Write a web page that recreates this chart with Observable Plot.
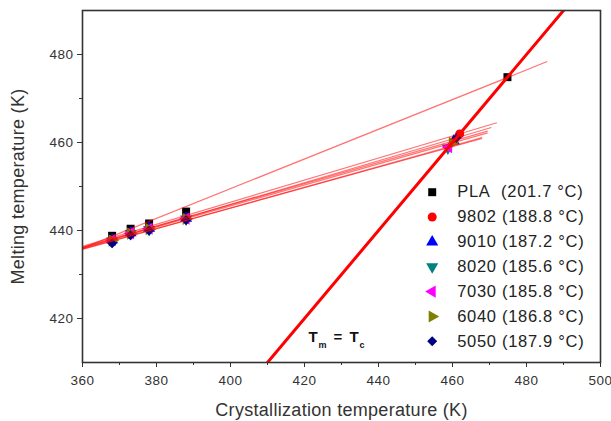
<!DOCTYPE html>
<html><head><meta charset="utf-8">
<script src="https://cdn.jsdelivr.net/npm/d3@7"></script>
<script src="https://cdn.jsdelivr.net/npm/@observablehq/plot@0.6"></script>
<style>
html,body{margin:0;padding:0;background:#fff;}
g[aria-label="x-axis tick label"], g[aria-label="y-axis tick label"]{letter-spacing:0.5px;}
.ttl{letter-spacing:0.3px;}
.leg{letter-spacing:0.7px;}
</style>
</head><body>
<div id="chart"></div>
<script>
// ---- data ----
const tc = [368, 373, 378, 388];
const seriesNames = ["PLA", "9802", "9010", "8020", "7030", "6040", "5050"];
const seriesLabels = ["PLA\u00a0\u00a0(201.7 \u00b0C)", "9802 (188.8 \u00b0C)", "9010 (187.2 \u00b0C)", "8020 (185.6 \u00b0C)", "7030 (185.8 \u00b0C)", "6040 (186.8 \u00b0C)", "5050 (187.9 \u00b0C)"];
const tmPLA  = [438.8, 440.4, 441.6, 444.3];
const tm9802 = [438.0, 439.6, 440.6, 442.9];
const tm9010 = [437.9, 439.5, 440.5, 442.8];
const tm8020 = [437.6, 439.3, 440.2, 442.6];
const tm7030 = [437.8, 439.4, 440.4, 442.7];
const tm6040 = [437.7, 439.3, 440.3, 442.6];
const tm5050 = [437.1, 438.9, 440.0, 442.4];
const tmSeries = [tmPLA, tm9802, tm9010, tm8020, tm7030, tm6040, tm5050];
// equilibrium melting temperatures (K)
const tm0 = [474.85, 461.95, 460.35, 458.75, 458.95, 459.95, 461.05];
// fitted Hoffman-Weeks lines: start (x=360) and end points
const fitStartX = [360, 360, 360, 360, 360, 360, 360];
const fitStartY = [436.0, 436.4, 436.2, 435.8, 435.7, 436.0, 436.0];
const fitEndX = [485.6, 472.0, 469.5, 468.0, 468.0, 469.5, 470.5];
const fitEndY = [478.4, 464.5, 462.6, 460.9, 461.1, 462.2, 463.4];
// Tm = Tc line
const eqLine = [410, 490];
const xTicks = [360, 380, 400, 420, 440, 460, 480, 500];
const xMinor = [370, 390, 410, 430, 450, 470, 490];
const yTicks = [420, 440, 460, 480];
const yMinor = [430, 450, 470];
const colors = ["#000000", "#ff0000", "#0000ff", "#008080", "#ff00ff", "#808000", "#000080"];

// ---- symbols ----
function tri(angleDeg) {
  return {draw(ctx, size) {
    const R = Math.sqrt(size / (3 * Math.sqrt(3) / 4));
    for (let k = 0; k < 3; k++) {
      const a = (angleDeg + k * 120) * Math.PI / 180;
      const px = R * Math.cos(a), py = -R * Math.sin(a);
      if (k === 0) ctx.moveTo(px, py); else ctx.lineTo(px, py);
    }
    ctx.closePath();
  }};
}
const symbols = ["square", "circle", tri(90), tri(-90), tri(180), tri(0), "diamond2"];

// ---- build data rows ----
const pts = [];
seriesNames.forEach((s, i) => {
  tc.forEach((t, j) => pts.push({s: i, x: t, y: tmSeries[i][j]}));
  pts.push({s: i, x: tm0[i], y: tm0[i]});
});
const fits = seriesNames.map((s, i) => ({s: i, x1: fitStartX[i], y1: fitStartY[i], x2: fitEndX[i], y2: fitEndY[i]}));

const marks = [];
seriesNames.forEach((s, i) => {
  marks.push(Plot.dot(pts.filter(d => d.s === i), {x: "x", y: "y", r: 4.5, symbol: () => symbols[i], fill: colors[i], stroke: "none"}));
});
marks.push(Plot.link(fits, {x1: "x1", y1: "y1", x2: "x2", y2: "y2", stroke: "#ff0000", strokeOpacity: 0.55, strokeWidth: 1.2, clip: true}));
marks.push(Plot.line(eqLine.map(v => ({x: v, y: v})), {x: "x", y: "y", stroke: "#ff0000", strokeWidth: 3, clip: true}));

// axes
marks.push(Plot.axisX({ticks: xTicks, tickSize: 5, tickPadding: 8, fontSize: 13.5, label: null, stroke: "#333", fill: "#333"}));
marks.push(Plot.axisX({ticks: xMinor, tickSize: 3, tickFormat: () => "", label: null, stroke: "#333"}));
marks.push(Plot.axisY({ticks: yTicks, tickSize: 5, tickPadding: 4, fontSize: 13.5, label: null, stroke: "#333", fill: "#333"}));
marks.push(Plot.axisY({ticks: yMinor, tickSize: 3, tickFormat: () => "", label: null, stroke: "#333"}));
marks.push(Plot.frame({stroke: "#333", strokeWidth: 1.6}));

// axis titles
marks.push(Plot.text(["Crystallization temperature (K)"], {frameAnchor: "bottom", dy: 48, lineAnchor: "middle", textAnchor: "middle", fontSize: 18, fill: "#333", className: "ttl"}));
marks.push(Plot.text(["Melting temperature (K)"], {frameAnchor: "left", dx: -64, rotate: -90, textAnchor: "middle", lineAnchor: "middle", fontSize: 18, fill: "#333", className: "ttl"}));

// annotation Tm = Tc
const annX = [421.1], annY = [414.6];
const ann = [{x: annX[0], y: annY[0]}];
const annParts = [["T", 0, 0, 15], ["m", 10, 6, 9], ["=", 25, 0, 15], ["T", 41, 0, 15], ["c", 51, 6, 9]];
annParts.forEach(([t, dx, dy, fs]) => {
  marks.push(Plot.text(ann, {x: "x", y: "y", text: () => t, dx, dy, fontSize: fs, fontWeight: "bold", textAnchor: "start", lineAnchor: "bottom", fill: "#111"}));
});

// legend
seriesNames.forEach((s, i) => {
  marks.push(Plot.dot([0], {frameAnchor: "top-left", dx: 349.7, dy: 181.7 + i * 24.85, r: 4.5, symbol: () => symbols[i], fill: colors[i]}));
  marks.push(Plot.text([seriesLabels[i]], {frameAnchor: "top-left", dx: 374.7, dy: 181.7 + i * 24.85, textAnchor: "start", lineAnchor: "middle", fontSize: 16.5, fill: "#222", className: "leg"}));
});

const chart = Plot.plot({
  width: 611, height: 421,
  marginLeft: 82, marginRight: 11, marginTop: 10, marginBottom: 59,
  x: {domain: [360, 500]},
  y: {domain: [410, 490]},
  style: {fontFamily: "Arial, 'Liberation Sans', sans-serif", background: "#fff", color: "#333"},
  marks
});
document.getElementById("chart").appendChild(chart);
</script>
</body></html>
